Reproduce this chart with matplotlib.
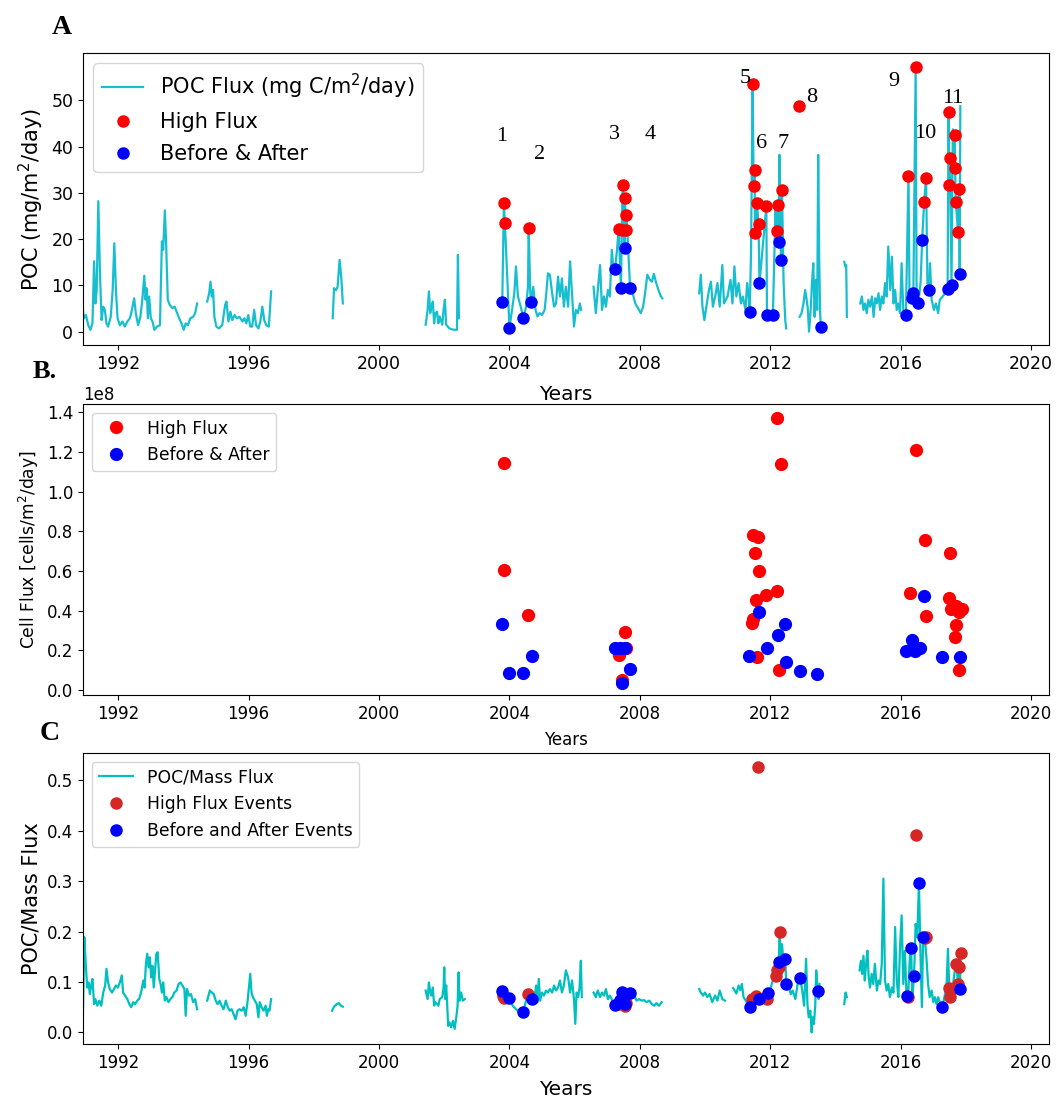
import numpy as np
import matplotlib
matplotlib.use("Agg")
import matplotlib.pyplot as plt

# ---------------- Panel A : POC flux time series (year, mg C/m2/day) ----------------
A_seg1 = [(1990.91,5.1),(1990.95,2.9),(1991.01,3.6),(1991.08,1.4),(1991.15,0.4),(1991.21,1.8),(1991.26,15.2),
          (1991.30,6.1),(1991.34,9.0),(1991.39,28.2),(1991.44,12.6),(1991.49,2.5),(1991.54,5.4),(1991.59,4.7),
          (1991.64,1.8),(1991.69,1.1),(1991.77,3.2),(1991.83,9.0),(1991.88,19.1),(1991.93,9.0),(1991.98,2.9),
          (1992.05,1.4),(1992.13,2.2),(1992.20,1.1),(1992.28,2.2),(1992.36,2.9),(1992.42,4.7),(1992.49,7.2),
          (1992.54,4.0),(1992.61,1.4),(1992.68,3.2),(1992.74,6.9),(1992.80,12.1),(1992.84,6.9),(1992.87,9.4),
          (1992.91,2.9),(1992.95,7.6),(1993.00,2.9),(1993.05,2.2),(1993.11,0.4),(1993.19,1.1),(1993.28,1.4),
          (1993.34,19.5),(1993.38,17.7),(1993.43,26.2),(1993.47,19.1),(1993.52,6.9),(1993.58,5.8),(1993.66,5.1),
          (1993.73,5.4),(1993.81,4.0),(1993.87,2.9),(1993.94,1.8),(1994.01,0.4),(1994.07,1.8),(1994.14,1.4),
          (1994.21,2.9),(1994.30,3.2),(1994.36,4.0),(1994.42,6.1)]
A_seg2 = [(1994.73,6.5),(1994.79,8.3),(1994.83,10.8),(1994.87,7.6),(1994.91,9.0),(1994.95,3.2),(1995.01,1.1),
          (1995.09,0.7),(1995.19,1.4),(1995.28,5.8),(1995.32,6.5),(1995.38,2.2),(1995.44,4.3),(1995.50,2.5),
          (1995.57,3.6),(1995.64,2.9),(1995.72,3.2),(1995.81,2.2),(1995.87,2.9),(1995.93,1.8),(1995.99,3.6),
          (1996.05,1.1),(1996.11,1.1),(1996.17,4.7),(1996.23,1.4),(1996.30,0.7),(1996.36,2.2),(1996.42,5.4),
          (1996.48,2.5),(1996.54,1.4),(1996.62,1.1),(1996.69,8.7)]
A_seg3 = [(1998.58,2.9),(1998.62,9.4),(1998.68,9.0),(1998.73,9.7),(1998.79,15.5),(1998.84,11.9),(1998.89,6.1)]
A_seg4 = [(2001.43,1.5),(2001.49,4.7),(2001.53,8.7),(2001.57,4.0),(2001.61,5.4),(2001.65,6.5),(2001.69,1.8),
          (2001.73,4.0),(2001.78,4.3),(2001.82,1.8),(2001.86,3.3),(2001.94,1.5),(2001.98,4.7),(2002.02,6.9),
          (2002.06,1.5),(2002.11,1.1),(2002.16,0.7),(2002.24,0.5),(2002.32,0.4),(2002.39,0.4),(2002.42,16.6),
          (2002.45,2.9)]
A_seg5 = [(2003.78,6.4),(2003.83,27.8),(2003.86,23.5),(2004.00,0.9),(2004.08,4.7),(2004.15,8.3),(2004.20,14.1),
          (2004.26,7.6),(2004.33,5.8),(2004.43,3.0),(2004.51,5.4),(2004.57,9.7),(2004.59,22.5),(2004.64,8.3),
          (2004.67,6.5),(2004.73,9.7),(2004.80,4.7),(2004.86,3.3),(2004.92,4.0),(2005.00,3.6),(2005.08,4.7),
          (2005.14,9.0),(2005.18,12.6),(2005.24,12.3),(2005.31,8.3),(2005.37,5.4),(2005.43,6.1),(2005.49,11.9),
          (2005.55,7.6),(2005.61,11.5),(2005.67,5.4),(2005.73,9.7),(2005.80,5.4),(2005.86,15.2),(2005.92,8.3),
          (2005.98,1.1),(2006.04,4.7),(2006.10,4.0),(2006.16,6.1),(2006.20,4.7)]
A_seg6 = [(2006.58,9.7),(2006.65,4.0),(2006.71,9.0),(2006.78,14.4),(2006.84,4.7),(2006.90,7.6),(2006.96,5.4),
          (2007.02,9.0),(2007.08,7.6),(2007.14,17.7),(2007.19,13.4),(2007.24,13.6),(2007.30,17.7),(2007.35,22.2),
          (2007.42,9.5),(2007.45,22.0),(2007.47,31.7),(2007.53,18.0),(2007.54,28.9),(2007.57,21.9),(2007.59,25.3),
          (2007.70,9.5),(2007.78,8.3),(2007.86,6.1),(2007.94,5.1),(2008.03,4.0),(2008.10,5.4),(2008.16,8.3),
          (2008.23,12.3),(2008.31,11.2),(2008.37,10.8),(2008.43,12.5),(2008.49,10.8),(2008.57,9.0),(2008.64,7.7),
          (2008.69,7.2)]
A_seg7 = [(2009.82,8.3),(2009.87,12.3),(2009.92,5.4),(2009.98,2.5),(2010.04,5.4),(2010.12,9.0),(2010.18,10.8),
          (2010.24,5.4),(2010.31,7.6),(2010.38,10.5),(2010.45,5.4),(2010.53,14.4),(2010.58,6.1),(2010.69,7.6),
          (2010.78,11.2),(2010.84,6.1),(2010.90,14.1),(2010.96,7.6),(2011.03,10.5),(2011.10,6.1),(2011.16,7.6),
          (2011.24,4.7),(2011.29,10.5),(2011.33,8.3),(2011.37,4.2),(2011.41,17.0),(2011.46,53.4),(2011.49,31.5),
          (2011.52,35.0),(2011.53,21.3),(2011.59,27.8),(2011.64,23.3),(2011.67,10.5),(2011.88,27.1),(2011.90,3.5),
          (2012.00,3.8),(2012.08,3.5),(2012.16,26.3),(2012.20,21.8),(2012.23,27.4),(2012.26,19.3),(2012.28,38.2),
          (2012.33,15.5),(2012.36,30.7),(2012.41,10.5),(2012.46,2.5),(2012.49,0.7)]
A_seg8 = [(2012.90,3.2),(2012.96,4.0),(2013.02,6.1),(2013.07,9.0),(2013.11,7.2),(2013.15,5.1),(2013.19,0.0),
          (2013.24,4.7),(2013.28,10.5),(2013.32,14.8),(2013.36,3.2),(2013.40,11.2),(2013.44,4.7),(2013.47,38.2),
          (2013.50,16.2),(2013.53,4.0),(2013.55,1.1)]
A_seg9 = [(2014.27,15.1),(2014.30,14.1),(2014.33,14.4),(2014.35,3.2)]
A_seg10 = [(2014.76,6.1),(2014.81,7.6),(2014.86,4.7),(2014.91,6.1),(2014.96,4.0),(2015.01,6.9),(2015.06,5.4),
           (2015.12,7.6),(2015.17,3.2),(2015.22,7.2),(2015.27,6.1),(2015.32,8.3),(2015.37,4.7),(2015.42,7.6),
           (2015.47,6.1),(2015.52,10.5),(2015.57,7.6),(2015.62,18.4),(2015.68,9.0),(2015.73,16.2),(2015.78,6.1),
           (2015.83,9.0),(2015.88,4.7),(2015.93,6.1),(2015.98,4.0),(2016.03,14.8),(2016.08,4.7),(2016.16,3.5),
           (2016.24,33.7),(2016.27,9.0),(2016.34,7.2),(2016.39,8.4),(2016.46,57.2),(2016.49,6.1),(2016.54,6.1),
           (2016.61,10.5),(2016.66,19.8),(2016.72,28.1),(2016.78,33.2),(2016.82,10.5),(2016.87,9.0),(2016.90,14.8),
           (2016.95,6.9),(2017.02,4.7),(2017.08,6.1),(2017.15,4.0),(2017.20,6.9),(2017.29,7.6),(2017.44,9.2),
           (2017.47,47.5),(2017.49,31.7),(2017.51,37.5),(2017.56,10.1),(2017.60,43.7),(2017.66,42.4),(2017.67,35.4),
           (2017.69,28.1),(2017.76,21.6),(2017.80,30.8),(2017.81,12.5),(2017.83,48.7)]
A_segments = [A_seg1, A_seg2, A_seg3, A_seg4, A_seg5, A_seg6, A_seg7, A_seg8, A_seg9, A_seg10]

A_high = [(2003.83,27.8),(2003.86,23.5),(2004.59,22.5),(2007.35,22.2),(2007.45,22.0),(2007.47,31.7),(2007.54,28.9),
          (2007.57,21.9),(2007.59,25.3),(2011.46,53.4),(2011.49,31.5),(2011.52,35.0),(2011.53,21.3),(2011.59,27.8),
          (2011.64,23.3),(2011.88,27.1),(2012.20,21.8),(2012.23,27.4),(2012.36,30.7),(2012.87,48.8),(2016.24,33.7),
          (2016.46,57.2),(2016.72,28.1),(2016.78,33.2),(2017.47,47.5),(2017.49,31.7),(2017.51,37.5),(2017.66,42.4),
          (2017.67,35.4),(2017.69,28.1),(2017.76,21.6),(2017.80,30.8)]
A_before_after = [(2003.78,6.4),(2004.00,0.9),(2004.43,3.0),(2004.67,6.5),(2007.24,13.6),(2007.42,9.5),(2007.53,18.0),
                  (2007.70,9.5),(2011.37,4.2),(2011.67,10.5),(2011.90,3.5),(2012.08,3.5),(2012.26,19.3),(2012.33,15.5),
                  (2013.55,1.1),(2016.16,3.5),(2016.34,7.2),(2016.39,8.4),(2016.54,6.1),(2016.66,19.8),(2016.87,9.0),
                  (2017.44,9.2),(2017.56,10.1),(2017.81,12.5)]
event_labels = ["1","2","3","4","5","6","7","8","9","10","11"]
event_label_pos = [(2003.75,42.1),(2004.91,38.3),(2007.21,42.6),(2008.32,42.6),(2011.23,54.7),(2011.72,40.6),
                   (2012.40,40.6),(2013.26,50.6),(2015.80,54.0),(2016.75,42.8),(2017.61,50.3)]

# ---------------- Panel B : cell flux (cells/m2/day) ----------------
B_high = [(2003.82,1.147e8),(2003.84,0.607e8),(2004.58,0.380e8),(2007.56,0.292e8),(2007.36,0.177e8),(2007.58,0.214e8),
          (2007.44,0.051e8),(2011.48,0.784e8),(2011.63,0.771e8),(2011.52,0.692e8),(2011.64,0.602e8),(2011.57,0.455e8),
          (2011.86,0.477e8),(2012.20,0.501e8),(2011.46,0.359e8),(2011.44,0.337e8),(2011.60,0.165e8),(2012.21,1.371e8),
          (2012.34,1.142e8),(2012.28,0.101e8),(2016.47,1.211e8),(2016.75,0.756e8),(2017.50,0.692e8),(2016.29,0.489e8),
          (2017.49,0.464e8),(2017.53,0.410e8),(2017.70,0.422e8),(2017.81,0.410e8),(2017.87,0.410e8),(2017.79,0.393e8),
          (2016.79,0.371e8),(2017.70,0.326e8),(2017.67,0.265e8),(2017.79,0.101e8)]
B_before_after = [(2003.77,0.334e8),(2004.00,0.084e8),(2004.43,0.084e8),(2004.68,0.172e8),(2007.24,0.214e8),
                  (2007.38,0.214e8),(2007.55,0.214e8),(2007.70,0.106e8),(2007.44,0.034e8),(2011.35,0.172e8),
                  (2011.65,0.393e8),(2011.91,0.211e8),(2012.23,0.275e8),(2012.46,0.331e8),(2012.48,0.140e8),
                  (2012.91,0.098e8),(2013.44,0.079e8),(2016.17,0.197e8),(2016.34,0.253e8),(2016.43,0.197e8),
                  (2016.59,0.214e8),(2016.71,0.474e8),(2017.28,0.169e8),(2017.81,0.169e8)]

# ---------------- Panel C : POC / mass flux ----------------
C_seg1 = [(1990.91,0.003),(1990.96,0.189),(1991.01,0.129),(1991.05,0.089),(1991.09,0.099),(1991.13,0.076),
          (1991.17,0.093),(1991.21,0.106),(1991.26,0.056),(1991.30,0.066),(1991.36,0.053),(1991.42,0.063),
          (1991.48,0.053),(1991.54,0.079),(1991.60,0.093),(1991.64,0.126),(1991.69,0.099),(1991.74,0.086),
          (1991.81,0.079),(1991.87,0.086),(1991.93,0.093),(1991.99,0.089),(1992.05,0.099),(1992.11,0.113),
          (1992.15,0.079),(1992.21,0.073),(1992.28,0.066),(1992.34,0.056),(1992.40,0.050),(1992.46,0.060),
          (1992.52,0.056),(1992.58,0.063),(1992.64,0.066),(1992.70,0.079),(1992.77,0.103),(1992.81,0.089),
          (1992.85,0.136),(1992.89,0.156),(1992.93,0.129),(1992.97,0.149),(1993.01,0.109),(1993.05,0.132),
          (1993.09,0.089),(1993.13,0.123),(1993.17,0.156),(1993.21,0.159),(1993.26,0.106),(1993.30,0.096),
          (1993.34,0.079),(1993.38,0.099),(1993.43,0.063),(1993.48,0.070),(1993.54,0.060),(1993.60,0.066),
          (1993.66,0.070),(1993.72,0.079),(1993.79,0.083),(1993.85,0.096),(1993.91,0.099),(1993.97,0.093),
          (1994.03,0.086),(1994.07,0.033),(1994.11,0.086),(1994.17,0.073),(1994.23,0.076),(1994.30,0.060),
          (1994.36,0.066),(1994.42,0.046)]
C_seg2 = [(1994.73,0.063),(1994.81,0.083),(1994.87,0.079),(1994.93,0.076),(1994.99,0.063),(1995.05,0.056),
          (1995.11,0.063),(1995.17,0.053),(1995.23,0.046),(1995.30,0.063),(1995.36,0.050),(1995.42,0.043),
          (1995.48,0.046),(1995.54,0.036),(1995.60,0.026),(1995.66,0.043),(1995.72,0.046),(1995.79,0.043),
          (1995.85,0.050),(1995.91,0.033),(1995.97,0.063),(1996.01,0.089),(1996.05,0.116),(1996.09,0.079),
          (1996.13,0.070),(1996.19,0.063),(1996.25,0.056),(1996.30,0.030),(1996.34,0.060),(1996.40,0.050),
          (1996.46,0.043),(1996.52,0.053),(1996.56,0.033),(1996.60,0.046),(1996.64,0.043),(1996.69,0.066)]
C_seg3 = [(1998.56,0.043),(1998.62,0.051),(1998.70,0.056),(1998.77,0.058),(1998.83,0.053),(1998.89,0.051)]
C_seg4 = [(2001.43,0.083),(2001.49,0.066),(2001.53,0.099),(2001.57,0.079),(2001.61,0.073),(2001.65,0.089),
          (2001.69,0.053),(2001.73,0.060),(2001.78,0.056),(2001.82,0.053),(2001.86,0.066),(2001.94,0.070),
          (2001.98,0.089),(2002.00,0.129),(2002.03,0.066),(2002.06,0.093),(2002.09,0.056),(2002.12,0.013),
          (2002.16,0.020),(2002.21,0.010),(2002.27,0.023),(2002.32,0.007),(2002.37,0.030),(2002.41,0.053),
          (2002.44,0.119),(2002.47,0.063),(2002.52,0.079),(2002.57,0.063),(2002.63,0.066)]
C_seg5 = [(2003.74,0.083),(2003.80,0.076),(2003.90,0.070),(2004.00,0.068),(2004.10,0.053),(2004.20,0.046),
          (2004.31,0.040),(2004.43,0.042),(2004.51,0.063),(2004.59,0.073),(2004.68,0.065),(2004.77,0.070),
          (2004.82,0.093),(2004.86,0.060),(2004.90,0.106),(2004.94,0.063),(2005.00,0.079),(2005.06,0.073),
          (2005.12,0.083),(2005.18,0.079),(2005.24,0.086),(2005.31,0.079),(2005.37,0.093),(2005.43,0.083),
          (2005.49,0.089),(2005.55,0.103),(2005.61,0.079),(2005.67,0.093),(2005.73,0.123),(2005.80,0.109),
          (2005.86,0.079),(2005.92,0.103),(2005.98,0.066),(2006.02,0.017),(2006.06,0.079),(2006.11,0.070),
          (2006.15,0.089),(2006.19,0.142),(2006.22,0.070)]
C_seg6 = [(2006.58,0.079),(2006.65,0.070),(2006.71,0.083),(2006.78,0.070),(2006.84,0.079),(2006.90,0.073),
          (2006.96,0.086),(2007.02,0.066),(2007.08,0.073),(2007.16,0.063),(2007.24,0.053),(2007.33,0.060),
          (2007.42,0.079),(2007.52,0.064),(2007.62,0.068),(2007.72,0.079),(2007.83,0.073),(2007.90,0.063),
          (2007.98,0.066),(2008.06,0.063),(2008.13,0.064),(2008.20,0.060),(2008.29,0.063),(2008.37,0.056),
          (2008.44,0.053),(2008.51,0.058),(2008.59,0.053),(2008.67,0.060)]
C_seg7 = [(2009.82,0.086),(2009.87,0.079),(2009.94,0.073),(2010.00,0.079),(2010.07,0.070),(2010.14,0.076),
          (2010.22,0.060),(2010.31,0.073),(2010.38,0.063),(2010.45,0.083),(2010.53,0.066),(2010.61,0.063)]
C_seg8 = [(2010.86,0.088),(2010.90,0.084),(2010.96,0.077),(2011.03,0.093),(2011.08,0.084),(2011.13,0.096),
          (2011.18,0.070),(2011.25,0.063),(2011.31,0.056),(2011.37,0.050),(2011.44,0.066),(2011.52,0.066),
          (2011.57,0.073),(2011.61,0.073),(2011.67,0.066),(2011.75,0.070),(2011.82,0.073),(2011.90,0.066),
          (2011.93,0.079),(2012.00,0.086),(2012.08,0.103),(2012.15,0.109),(2012.18,0.111),(2012.22,0.123),
          (2012.26,0.139),(2012.29,0.200),(2012.32,0.123),(2012.36,0.175),(2012.41,0.136),(2012.46,0.146),
          (2012.49,0.096),(2012.56,0.093),(2012.63,0.076),(2012.69,0.083),(2012.77,0.066),(2012.84,0.096),
          (2012.92,0.107),(2012.98,0.083),(2013.04,0.053),(2013.10,0.146),(2013.14,0.056),(2013.18,0.030),
          (2013.23,0.043),(2013.27,0.000),(2013.30,0.030),(2013.34,0.017),(2013.38,0.053),(2013.41,0.123),
          (2013.45,0.083),(2013.48,0.066),(2013.51,0.096)]
C_seg9 = [(2014.27,0.056),(2014.31,0.079),(2014.35,0.070)]
C_seg10 = [(2014.74,0.123),(2014.78,0.142),(2014.82,0.116),(2014.86,0.152),(2014.90,0.103),(2014.94,0.136),
           (2014.98,0.162),(2015.02,0.109),(2015.06,0.089),(2015.11,0.116),(2015.16,0.096),(2015.21,0.136),
           (2015.27,0.083),(2015.32,0.103),(2015.37,0.096),(2015.42,0.136),(2015.47,0.305),(2015.52,0.103),
           (2015.57,0.083),(2015.62,0.096),(2015.67,0.070),(2015.73,0.089),(2015.78,0.079),(2015.83,0.209),
           (2015.88,0.103),(2015.93,0.070),(2015.98,0.169),(2016.03,0.232),(2016.08,0.096),(2016.13,0.162),
           (2016.18,0.073),(2016.23,0.073),(2016.29,0.162),(2016.32,0.167),(2016.36,0.070),(2016.41,0.111),
           (2016.46,0.215),(2016.51,0.189),(2016.56,0.296),(2016.61,0.149),(2016.65,0.050),(2016.69,0.189),
           (2016.74,0.187),(2016.79,0.149),(2016.84,0.096),(2016.89,0.070),(2016.95,0.083),(2017.00,0.060),
           (2017.05,0.070),(2017.10,0.056),(2017.15,0.070),(2017.20,0.060),(2017.28,0.051),(2017.36,0.076),
           (2017.41,0.096),(2017.45,0.166),(2017.49,0.088),(2017.51,0.070),(2017.56,0.086),(2017.61,0.096),
           (2017.66,0.123),(2017.71,0.136),(2017.76,0.096),(2017.78,0.129),(2017.82,0.086),(2017.84,0.158)]
C_segments = [C_seg1, C_seg2, C_seg3, C_seg4, C_seg5, C_seg6, C_seg7, C_seg8, C_seg9, C_seg10]

C_high = [(2003.81,0.073),(2003.84,0.068),(2004.58,0.076),(2007.36,0.056),(2007.44,0.063),(2007.55,0.053),
          (2007.58,0.058),(2011.44,0.066),(2011.57,0.073),(2011.61,0.526),(2011.86,0.070),(2011.90,0.066),
          (2012.18,0.111),(2012.22,0.123),(2012.26,0.130),(2012.29,0.200),(2016.23,0.071),(2016.46,0.391),
          (2016.74,0.187),(2016.77,0.190),(2017.49,0.088),(2017.51,0.070),(2017.56,0.086),(2017.71,0.136),
          (2017.76,0.096),(2017.78,0.129),(2017.84,0.158)]
C_before_after = [(2003.77,0.083),(2004.00,0.068),(2004.43,0.041),(2004.68,0.066),(2007.24,0.055),(2007.38,0.065),
                  (2007.44,0.081),(2007.55,0.056),(2007.70,0.078),(2011.37,0.050),(2011.67,0.066),(2011.93,0.079),
                  (2012.26,0.139),(2012.46,0.146),(2012.49,0.096),(2012.92,0.107),(2013.45,0.083),(2016.18,0.073),
                  (2016.32,0.167),(2016.41,0.111),(2016.56,0.296),(2016.69,0.189),(2017.28,0.051),(2017.82,0.086)]

year_ticks = [1992, 1996, 2000, 2004, 2008, 2012, 2016, 2020]


def join_segments(segments):
    xs, ys = [], []
    for seg in segments:
        if xs:
            xs.append(np.nan)
            ys.append(np.nan)
        for x, y in seg:
            xs.append(x)
            ys.append(y)
    return np.array(xs), np.array(ys)


def unzip(points):
    return np.array([p[0] for p in points]), np.array([p[1] for p in points])


W, H = 1058, 1100
fig = plt.figure(figsize=(W / 100, H / 100), dpi=100)
left, right = 83, 1049


def axes_px(top, bottom):
    return fig.add_axes([left / W, 1 - bottom / H, (right - left) / W, (bottom - top) / H])


axA = axes_px(53, 345)
axB = axes_px(404, 695)
axC = axes_px(753, 1044)

XLIM = (1990.92, 2020.55)

# ---- Panel A
xa, ya = join_segments(A_segments)
axA.plot(xa, ya, color='#17becf', lw=1.6, label='POC Flux (mg C/m$^2$/day)')
hx, hy = unzip(A_high)
axA.plot(hx, hy, 'o', color='red', ms=8, ls='none', label='High Flux')
bx, by = unzip(A_before_after)
axA.plot(bx, by, 'o', color='blue', ms=8, ls='none', label='Before & After')
for lab, (x, y) in zip(event_labels, event_label_pos):
    axA.text(x, y, lab, ha='center', va='center', fontsize=16, family='Liberation Serif')
axA.set_xlim(*XLIM)
axA.set_ylim(-2.88, 60.2)
axA.set_yticks([0, 10, 20, 30, 40, 50])
axA.set_xticks(year_ticks)
axA.tick_params(labelsize=12.5)
axA.set_xlabel('Years', fontsize=14.5, labelpad=9)
axA.set_ylabel('POC (mg/m$^2$/day)', fontsize=15)
axA.legend(loc='upper left', fontsize=15, labelspacing=0.55)

# ---- Panel B
hx, hy = unzip(B_high)
axB.plot(hx, hy, 'o', color='red', ms=8.5, ls='none', label='High Flux')
bx, by = unzip(B_before_after)
axB.plot(bx, by, 'o', color='blue', ms=8.5, ls='none', label='Before & After')
axB.set_xlim(*XLIM)
axB.set_ylim(-0.025e8, 1.442e8)
axB.set_yticks([0, 0.2e8, 0.4e8, 0.6e8, 0.8e8, 1.0e8, 1.2e8, 1.4e8])
axB.set_xticks(year_ticks)
axB.tick_params(labelsize=12)
axB.yaxis.get_offset_text().set_fontsize(12)
axB.set_xlabel('Years', fontsize=12, labelpad=6)
axB.set_ylabel('Cell Flux [cells/m$^2$/day]', fontsize=12.3)
axB.legend(loc='upper left', fontsize=12.4)

# ---- Panel C
xc, yc = join_segments(C_segments)
axC.plot(xc, yc, color='c', lw=1.6, label='POC/Mass Flux')
hx, hy = unzip(C_high)
axC.plot(hx, hy, 'o', color='#d62728', ms=8, ls='none', label='High Flux Events')
bx, by = unzip(C_before_after)
axC.plot(bx, by, 'o', color='blue', ms=8, ls='none', label='Before and After Events')
axC.set_xlim(*XLIM)
axC.set_ylim(-0.023, 0.554)
axC.set_yticks([0.0, 0.1, 0.2, 0.3, 0.4, 0.5])
axC.set_xticks(year_ticks)
axC.tick_params(labelsize=12)
axC.set_xlabel('Years', fontsize=14.5, labelpad=6)
axC.set_ylabel('POC/Mass Flux', fontsize=15)
axC.legend(loc='upper left', fontsize=12.4)

# panel letters
fig.text(62 / W, 1 - 27 / H, 'A', ha='center', va='center', fontsize=20, fontweight='bold', family='Liberation Serif')
fig.text(33 / W, 1 - 372 / H, 'B.', ha='left', va='center', fontsize=19, fontweight='bold', family='Liberation Serif')
fig.text(50 / W, 1 - 733 / H, 'C', ha='center', va='center', fontsize=20, fontweight='bold', family='Liberation Serif')

fig.savefig('out.png', dpi=100)
